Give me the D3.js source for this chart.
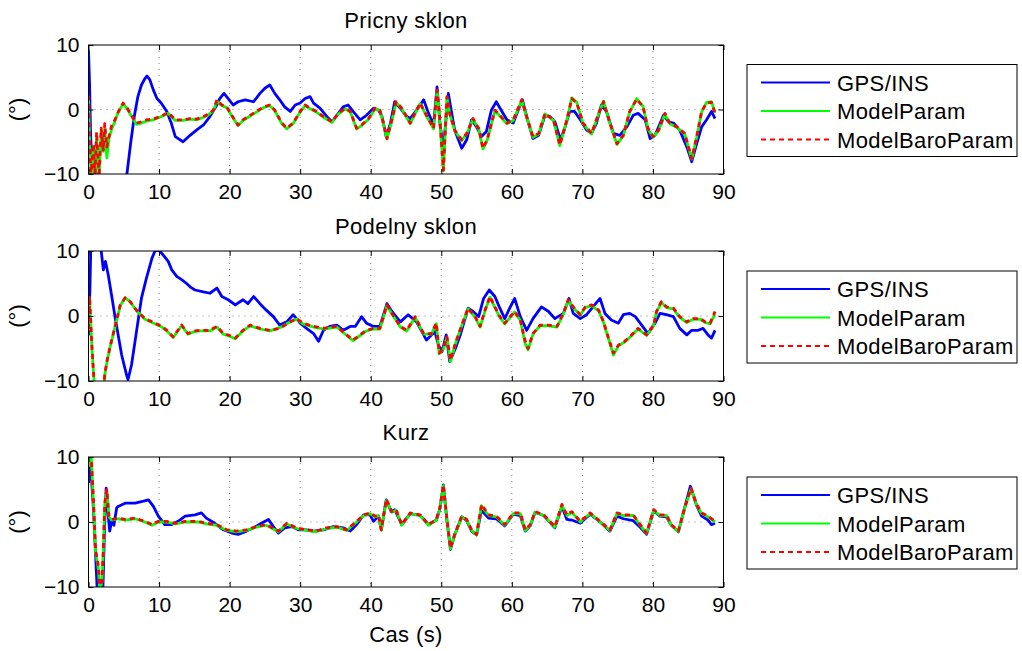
<!DOCTYPE html>
<html><head><meta charset="utf-8">
<script src="https://cdn.jsdelivr.net/npm/d3@7"></script>
<style>body{margin:0;background:#fff} svg{font-family:"Liberation Sans",Arial,Helvetica,sans-serif}</style>
</head><body><svg id="c" width="1022" height="651"></svg>
<script>
const xTicks=[0,10,20,30,40,50,60,70,80,90];
const yTicks=[-10,0,10];
const panelTitles=["Pricny sklon","Podelny sklon","Kurz"];
const seriesNames=["GPS/INS","ModelParam","ModelBaroParam"];
const xLabel="Cas (s)";
const yLabel="(°)";

// Panel 1 – Pricny sklon
const p1GpsT=[0,0.15,0.3,0.5,0.8,1.1,5.2,5.5,6.0,6.5,7.0,7.5,8.0,8.3,8.7,9.2,9.7,10.3,11.1,11.7,12.3,13.4,14.4,15.3,16.3,17.2,18.2,18.6,19.2,19.8,20.5,21.2,22.2,23.4,24.3,25.0,25.7,26.4,27.1,27.8,28.6,29.3,30.0,30.7,31.4,31.9,32.8,33.8,34.5,35.2,36.1,36.8,37.5,38.5,39.4,40.4,41.1,41.6,42.2,42.8,43.4,44.2,45.0,45.6,46.5,47.5,48.2,48.9,49.4,49.8,50.3,51.0,51.9,52.9,53.6,54.3,55.0,55.7,56.4,57.1,57.8,58.6,59.3,60.2,60.9,61.5,62.1,63.0,63.8,64.7,65.4,66.1,66.9,67.5,68.2,68.9,69.7,70.6,71.3,72.0,72.7,73.4,74.4,75.3,76.3,77.2,77.9,78.9,79.6,80.3,81.5,82.2,82.9,83.8,84.8,85.5,86.2,86.9,87.6,88.3,88.8];
const p1Gps=[9.2,4,-4,-9,-7,-12,-12,-9.5,-5,-1,2,3.8,4.8,5.2,4.6,3.0,1.7,1.0,-0.3,-2.0,-4.2,-5,-4,-3.2,-2.4,-1.1,0.7,1.7,2.5,1.7,0.7,1.2,1.5,1.2,2.5,3.3,3.8,2.5,1.5,0.4,-0.3,0.7,1.0,1.7,2.0,1.0,0.2,-1.1,-1.9,-0.9,0.4,0.7,-0.3,-1.6,-0.9,0.2,-0.1,-1.1,-4.2,-2.1,1.2,0.2,-1.0,-1.4,-0.1,1.5,-0.6,-2.4,3.5,-2.1,-6.0,2.5,-3.2,-6.0,-4.7,-1.6,-2.7,-4.2,-3.4,-0.1,1.2,-0.3,-1.6,-2.1,-0.1,1.5,-1.1,-4.5,-4.0,-0.9,-1.1,-1.9,-4.7,-2.9,-0.3,-0.3,-1.6,-3.2,-3.7,-2.1,0.7,-0.3,-3.7,-4.0,-2.7,-0.9,-0.6,-1.6,-4.5,-4.0,-0.9,-1.9,-2.1,-3.2,-5.8,-8.1,-5.3,-2.7,-1.6,-0.3,-1.4];
const p1ModelT=[0,0.17,0.35,0.7,0.9,1.15,1.5,1.8,2.1,2.3,2.6,2.9,3.3,3.75,4.2,4.9,5.5,5.9,6.8,7.5,8.2,9.2,10.1,11.3,12.3,13.4,14.4,15.3,16.3,17.0,17.7,18.2,18.9,19.6,20.3,21.2,21.9,22.9,23.8,24.8,25.7,26.4,27.4,28.1,29.0,30.0,30.7,31.4,32.3,33.3,34.5,35.4,36.4,37.1,38.0,38.7,39.7,40.6,41.3,41.8,42.3,43.0,43.6,44.4,45.6,47.0,47.9,48.9,49.4,49.7,50.3,50.8,51.2,51.9,52.9,53.6,54.5,55.3,55.9,56.5,57.6,58.3,59.3,60.2,61.4,62.1,63.0,63.8,64.7,65.9,66.8,67.8,68.5,69.2,70.1,71.3,72.3,73.0,73.9,74.9,75.8,76.7,77.7,78.6,79.3,80.0,80.8,81.7,82.4,83.4,84.5,85.5,86.2,86.9,87.6,88.3,88.8];
const p1Model=[2.0,-5,-10.5,-6,-10.5,-4.5,-10.5,-3.5,-6.5,-3.0,-7.5,-4.5,-3.0,-1.8,-0.5,0.9,0.1,-0.7,-2.3,-2.1,-1.8,-1.6,-1.2,-0.6,-1.7,-1.7,-1.5,-1.6,-1.2,-0.8,-0.2,1.3,0.6,0.3,-1.0,-2.5,-1.7,-1.0,-0.4,0.3,0.6,-0.2,-2.2,-3.0,-2.2,-0.4,0.6,0.1,-0.4,-1.2,-2.0,-0.7,0.1,-0.4,-3.0,-2.5,-1.5,0.1,-0.2,-2.2,-4.6,-1.7,1.1,0.1,-2.2,0.9,-1.0,-3.0,2.9,-0.2,-9.5,1.9,-0.7,-3.3,-4.8,-3.8,-1.5,-3.0,-6.1,-4.8,-0.2,-1.0,-2.2,-1.7,1.4,-1.2,-4.3,-3.8,-0.7,-1.7,-5.6,-1.7,1.8,1.1,-2.2,-3.8,-0.7,1.3,-2.2,-5.4,-4.1,-0.4,1.7,0.5,-3.0,-4.3,-3.3,-0.7,-2.2,-2.8,-3.8,-7.7,-4.3,-0.4,1.1,1.2,-0.5];
const p1Baro=[2.2,-4.7,-10.5,-5.3,-10.5,-3.5,-10.5,-2.9,-6.3,-2.2,-5.8,-4.2,-2.4,-1.6,-0.4,1.0,0.2,-0.6,-2.1,-1.9,-1.6,-1.5,-1.1,-0.5,-1.6,-1.6,-1.4,-1.5,-1.1,-0.7,-0.1,1.5,0.7,0.4,-0.9,-2.4,-1.6,-0.9,-0.3,0.4,0.7,-0.1,-2.1,-2.9,-2.1,-0.3,0.7,0.2,-0.3,-1.1,-1.9,-0.6,0.2,-0.3,-2.9,-2.4,-1.4,0.2,-0.1,-2.1,-4.5,-1.6,1.2,0.2,-2.1,1.0,-0.9,-2.9,3.0,-0.1,-9.4,2.0,-0.6,-3.2,-4.7,-3.7,-1.4,-2.9,-6.0,-4.7,-0.1,-0.9,-2.1,-1.6,1.5,-1.1,-4.2,-3.7,-0.6,-1.6,-5.5,-1.6,1.7,1.0,-2.1,-3.7,-0.6,1.2,-2.1,-5.3,-4.0,-0.3,1.6,0.4,-2.9,-4.2,-3.2,-0.6,-2.1,-2.7,-3.7,-7.6,-4.2,-0.3,1.0,1.1,-0.6];

// Panel 2 – Podelny sklon
const p2GpsT=[0,0.2,0.35,1.6,2.1,2.4,2.8,3.3,3.8,4.7,5.4,5.6,6.1,6.8,7.5,8.2,9.0,9.5,10.1,10.8,11.3,11.8,12.5,13.2,13.9,14.5,15.1,16.3,17.2,18.2,18.9,19.8,20.8,21.9,22.6,23.4,24.3,25.2,26.2,27.1,28.1,29.0,30.0,30.9,31.9,32.6,33.3,34.2,35.2,36.1,37.1,37.8,38.7,39.4,40.4,41.3,42.3,43.0,44.2,45.3,46.5,47.9,49.1,49.6,50.1,50.7,51.2,52.0,52.7,53.8,54.5,55.3,56.0,56.8,57.6,58.3,59.0,59.7,60.4,61.2,62.1,63.0,64.2,65.2,66.1,67.3,68.1,68.7,69.7,70.6,71.5,72.5,73.2,74.1,75.1,75.8,76.7,77.5,78.4,79.3,80.3,81.0,81.9,82.9,83.8,84.8,85.5,86.4,87.1,87.8,88.3,88.8];
const p2Gps=[-3,4,12,12,7.1,8.4,6.3,3,-0.4,-6.0,-9.1,-9.8,-7.5,-2.4,2.7,5.8,8.9,10.2,10.0,9.1,8.4,7.1,6.1,5.6,5.0,4.4,4.0,3.7,3.5,4.3,3.0,2.5,1.7,2.5,1.9,3.0,1.9,0.9,-0.1,-1.4,-0.9,0.2,-1.1,-1.9,-2.7,-3.9,-2.2,-1.6,-1.4,-2.2,-1.6,-1.6,-0.1,-1.1,-1.6,-1.6,1.9,0.7,-0.9,0.2,-0.9,-3.7,-2.4,-4.5,-5.5,-2.9,-7.0,-5.0,-2.9,1.2,0.7,-0.1,2.7,4.0,3.0,1.2,-0.4,1.2,2.7,-0.1,-2.2,-0.4,1.4,0.7,-0.4,0.4,2.7,0.4,-0.4,0.2,1.4,2.7,0.4,-0.6,-1.1,0.2,0.4,-0.1,-1.4,-2.7,-1.1,0.4,0.2,-0.1,-1.9,-2.9,-2.2,-2.2,-1.9,-2.9,-3.4,-2.2];
const p2ModelT=[0,0.15,0.5,0.9,2.1,2.3,2.6,3.0,3.8,4.5,5.2,5.9,6.8,8.0,9.0,10.4,11.2,12.0,13.2,14.1,15.0,15.8,17.2,18.2,19.1,20.0,20.8,21.9,22.9,24.3,25.7,27.1,28.6,29.5,30.4,31.9,33.3,35.2,36.6,37.5,38.5,39.4,40.4,41.3,42.3,43.0,44.2,45.1,46.3,47.5,48.6,49.3,49.7,50.3,50.8,51.3,52.0,52.9,53.8,54.8,55.5,56.2,56.9,57.6,58.3,59.0,60.4,61.2,61.9,62.3,63.0,64.0,65.2,66.4,67.3,68.0,68.7,69.7,70.4,71.3,72.3,73.0,73.7,74.4,75.1,76.0,77.0,77.9,79.1,80.1,80.5,81.2,81.9,82.9,83.8,84.8,85.7,86.7,87.4,88.1,88.8];
const p2Model=[-2.2,2.8,-5.2,-12,-12,-9.2,-7.2,-5.1,-1.5,1.6,2.8,2.2,0.8,-0.5,-1.0,-1.7,-2.4,-3.3,-1.5,-2.8,-2.4,-2.3,-2.3,-1.7,-2.8,-3.1,-3.5,-2.3,-1.5,-2.0,-2.3,-1.8,-0.9,-0.5,-1.2,-1.7,-2.0,-1.7,-3.0,-3.8,-3.0,-2.3,-2.0,-2.0,1.6,0.3,-1.7,-2.3,-0.2,-2.8,-2.8,-1.2,-5.8,-5.1,-3.3,-7.0,-4.3,-1.5,1.1,-0.2,-1.7,0.8,2.9,1.3,-0.2,-1.2,0.6,-0.7,-4.3,-5.2,-2.8,-1.5,-1.5,-1.7,0.3,2.4,1.3,0.1,1.3,1.6,0.8,-1.0,-3.5,-6.0,-4.6,-4.0,-3.0,-2.0,-3.0,-1.5,0.6,2.1,1.3,1.1,-0.2,-1.0,-0.5,-0.5,-1.0,-1.2,0.3];
const p2Baro=[-2,3,-5,-12,-12,-9,-7.0,-5.0,-1.4,1.7,2.8,2.2,0.9,-0.4,-0.9,-1.6,-2.3,-3.2,-1.4,-2.7,-2.3,-2.2,-2.2,-1.6,-2.7,-3.0,-3.4,-2.2,-1.4,-1.9,-2.2,-1.9,-0.9,-0.4,-1.1,-1.6,-1.9,-1.6,-2.9,-3.7,-2.9,-2.2,-1.9,-1.9,1.7,0.4,-1.6,-2.2,-0.1,-2.7,-2.7,-1.1,-5.7,-5.0,-3.2,-6.8,-4.2,-1.4,1.2,-0.1,-1.6,0.9,3.0,1.4,-0.1,-1.1,0.7,-0.6,-3.9,-5.0,-2.7,-1.4,-1.4,-1.6,0.4,2.5,1.4,0.2,1.4,1.7,0.9,-0.9,-3.4,-5.7,-4.5,-3.9,-2.9,-1.9,-2.9,-1.4,0.7,2.2,1.4,1.2,-0.1,-0.9,-0.4,-0.4,-0.9,-1.1,0.7];

// Panel 3 – Kurz
const p3GpsT=[0,0.2,0.4,0.7,1.0,1.3,2.0,2.3,2.5,2.8,3.0,3.3,3.6,4.0,4.2,5.2,6.6,7.8,8.5,9.2,9.9,10.8,11.8,12.7,13.7,15.1,16.0,16.7,17.9,19.1,20.3,21.2,22.4,23.4,24.5,25.5,26.2,26.9,27.8,28.8,29.7,30.9,31.9,33.3,34.7,36.1,37.1,38.0,39.0,39.9,40.4,41.1,41.5,42.2,42.9,43.4,44.4,45.6,47.0,48.2,49.3,49.8,50.3,50.8,51.3,51.9,52.9,53.6,54.3,55.0,55.7,56.7,57.8,59.0,60.2,61.2,61.9,62.6,63.3,64.5,66.1,67.1,67.8,68.5,69.7,71.1,72.5,73.9,74.9,75.8,77.2,78.2,79.1,80.1,81.0,81.9,82.6,83.6,84.5,85.3,86.2,86.9,87.8,88.3,88.8];
const p3Gps=[6,9,7,2,-5,-12,-12,0,5.2,1,-1.4,0.2,-0.5,2.2,2.4,2.9,2.9,3.2,3.4,2.4,0.9,-0.4,-0.4,0.1,0.9,1.1,1.4,0.6,-0.2,-1.2,-1.7,-1.9,-1.4,-0.9,-0.2,0.4,-0.7,-1.7,-0.9,-0.7,-1.2,-1.2,-1.4,-1.2,-0.7,-0.9,-1.4,-0.4,1.1,1.1,0.1,0.9,-1.2,3.4,1.6,1.9,-0.4,1.3,1.0,-0.4,0.3,2.0,5.7,0.2,-4.2,-2.0,0.8,0.2,-1.4,-2.0,1.8,0.6,0.5,-0.6,1.2,1.0,-1.4,-0.6,1.5,1.0,-0.9,2.4,0.4,0.3,-0.2,1.2,0.0,-1.4,0.9,0.5,0.2,-0.8,-1.9,1.7,0.9,0.8,-0.5,-1.5,2.2,5.5,2.5,0.9,0.3,-0.4,-0.2];
const p3ModelT=[0,0.35,0.7,1.0,1.4,1.6,1.9,2.1,2.3,2.6,2.9,3.3,4.2,5.2,6.6,8.0,9.0,9.9,11.1,12.3,13.7,15.6,16.7,18.2,19.6,21.0,22.4,23.8,25.2,26.9,28.1,29.5,30.9,32.3,33.7,35.2,36.6,38.0,39.0,39.9,40.6,41.1,41.5,42.2,43.0,43.6,44.4,45.6,47.0,48.2,49.3,49.8,50.3,50.8,51.3,51.9,52.9,53.6,54.3,55.0,55.7,56.7,57.8,59.0,60.2,61.2,61.9,62.6,63.3,64.5,66.1,67.1,67.8,68.5,69.7,71.1,72.5,73.9,74.9,75.8,77.2,78.2,79.1,80.1,81.0,81.9,82.6,83.6,84.5,85.4,86.2,86.9,87.8,88.8];
const p3Model=[8.5,11,3.0,-4.6,-7.2,-10.5,-9.3,-4.6,2.6,4.8,0.8,0.3,0.5,0.3,0.5,0.0,-0.5,0.0,0.0,-0.3,0.0,0.0,-0.3,-0.5,-1.3,-1.5,-1.3,-0.8,-0.5,-1.5,-0.3,-1.0,-1.3,-1.5,-1.0,-0.8,-1.3,0.0,1.0,1.3,0.8,1.0,-1.3,3.3,1.5,1.8,-0.5,1.3,1.0,-0.5,0.3,2.1,5.6,0.3,-4.1,-2.0,0.8,0.3,-1.3,-2.0,2.5,1.0,0.8,-0.5,1.3,1.3,-1.3,-0.5,1.5,1.0,-0.8,2.6,1.0,1.5,0.0,1.3,0.0,-1.3,1.3,1.0,1.0,-0.5,-1.8,1.8,1.0,1.0,-0.5,-1.5,2.1,5.1,2.6,1.3,0.8,0.0];
const p3Baro=[10.1,11,3.4,-4.3,-6.8,-10.5,-9.0,-4.3,2.9,5.0,0.9,0.4,0.6,0.4,0.6,0.1,-0.4,0.1,0.1,-0.2,0.1,0.1,-0.2,-0.4,-1.2,-1.4,-1.2,-0.7,-0.4,-1.4,-0.2,-0.9,-1.2,-1.4,-0.9,-0.7,-1.2,0.1,1.1,1.4,0.9,1.1,-1.2,3.5,1.6,1.9,-0.4,1.4,1.1,-0.4,0.4,2.2,5.7,0.4,-4.0,-1.9,0.9,0.4,-1.2,-1.9,2.7,1.1,0.9,-0.4,1.4,1.4,-1.2,-0.4,1.6,1.1,-0.7,2.7,1.1,1.6,0.1,1.4,0.1,-1.2,1.4,1.1,1.1,-0.4,-1.7,1.9,1.1,1.1,-0.4,-1.4,2.2,5.2,2.7,1.4,0.9,0.1];

const panels=[
  {title:panelTitles[0],series:[[p1GpsT,p1Gps],[p1ModelT,p1Model],[p1ModelT,p1Baro]]},
  {title:panelTitles[1],series:[[p2GpsT,p2Gps],[p2ModelT,p2Model],[p2ModelT,p2Baro]]},
  {title:panelTitles[2],series:[[p3GpsT,p3Gps],[p3ModelT,p3Model],[p3ModelT,p3Baro]]}
];
const colors=["#0000ff","#00ff00","#ff0000"];
const dashes=[null,null,"5,4"];
const FS=22, LS=0.4, TFS=21;

const svg=d3.select("#c");
const left=88.5,right=723.5;
const tops=[45,251,457],bots=[174,381,587];
const x=d3.scaleLinear().domain([0,90]).range([left,right]);
const fmt=d=>d3.format("d")(d);

panels.forEach((p,i)=>{
  const y=d3.scaleLinear().domain([-10,10]).range([bots[i],tops[i]]);
  const g=svg.append("g");
  const cid="clip"+i;
  svg.append("clipPath").attr("id",cid).append("rect")
    .attr("x",left).attr("y",tops[i]).attr("width",right-left).attr("height",bots[i]-tops[i]);
  // grid
  g.selectAll(".vg").data(xTicks.slice(1,-1)).enter().append("line")
    .attr("x1",d=>x(d)).attr("x2",d=>x(d)).attr("y1",tops[i]).attr("y2",bots[i])
    .attr("stroke","#666").attr("stroke-width",0.8).attr("stroke-dasharray","1,5");
  g.append("line").attr("x1",left).attr("x2",right).attr("y1",y(0)).attr("y2",y(0))
    .attr("stroke","#666").attr("stroke-width",0.8).attr("stroke-dasharray","1,5");
  // series
  const line=d3.line().x(d=>x(d[0])).y(d=>y(d[1]));
  const lg=g.append("g").attr("clip-path",`url(#${cid})`);
  p.series.forEach((s,k)=>{
    const pts=s[0].map((t,j)=>[t,s[1][j]]);
    const path=lg.append("path").datum(pts).attr("d",line).attr("fill","none")
      .attr("stroke",colors[k]).attr("stroke-width",2.8).attr("stroke-linejoin","round");
    if(dashes[k]) path.attr("stroke-dasharray",dashes[k]);
  });
  // axes with inside ticks
  const axB=d3.axisBottom(x).tickValues(xTicks).tickSizeInner(-5).tickSizeOuter(0).tickPadding(10).tickFormat(fmt);
  const axT=d3.axisTop(x).tickValues(xTicks).tickSizeInner(-5).tickSizeOuter(0).tickFormat("");
  const axL=d3.axisLeft(y).tickValues(yTicks).tickSizeInner(-5).tickSizeOuter(0).tickPadding(9).tickFormat(fmt);
  const axR=d3.axisRight(y).tickValues(yTicks).tickSizeInner(-5).tickSizeOuter(0).tickFormat("");
  const style=sel=>{sel.select(".domain").remove();sel.selectAll("line").attr("stroke","#000");
    sel.selectAll("text").attr("font-size",TFS).attr("fill","#000").attr("font-family","Liberation Sans, Arial, sans-serif");};
  g.append("g").attr("transform",`translate(0,${bots[i]})`).call(axB).call(style);
  g.append("g").attr("transform",`translate(0,${tops[i]})`).call(axT).call(style);
  g.append("g").attr("transform",`translate(${left},0)`).call(axL).call(style);
  g.append("g").attr("transform",`translate(${right},0)`).call(axR).call(style);
  g.append("rect").attr("x",left).attr("y",tops[i]).attr("width",right-left).attr("height",bots[i]-tops[i])
    .attr("fill","none").attr("stroke","#000").attr("stroke-width",1);
  // title
  svg.append("text").attr("x",(left+right)/2).attr("y",tops[i]-17).attr("text-anchor","middle")
    .attr("font-size",FS).attr("letter-spacing",LS).text(p.title);
  // y label
  svg.append("text").attr("transform",`translate(25,${(tops[i]+bots[i])/2}) rotate(-90)`)
    .attr("text-anchor","middle").attr("font-size",FS).text(yLabel);
  // legend
  const lx=747,lw=270,lh=92,ly=(tops[i]+bots[i])/2-lh/2+1;
  const leg=svg.append("g");
  leg.append("rect").attr("x",lx).attr("y",ly).attr("width",lw).attr("height",lh)
    .attr("fill","#fff").attr("stroke","#000").attr("stroke-width",1);
  seriesNames.forEach((n,k)=>{
    const yy=ly+18+k*28.5;
    const l=leg.append("line").attr("x1",761).attr("x2",830).attr("y1",yy).attr("y2",yy)
      .attr("stroke",colors[k]).attr("stroke-width",2);
    if(dashes[k]) l.attr("stroke-dasharray","5,4");
    leg.append("text").attr("x",837).attr("y",yy+8).attr("font-size",FS).attr("letter-spacing",LS).text(n);
  });
});
svg.append("text").attr("x",(left+right)/2).attr("y",642).attr("text-anchor","middle")
  .attr("font-size",FS).attr("letter-spacing",LS).text(xLabel);
</script></body></html>
